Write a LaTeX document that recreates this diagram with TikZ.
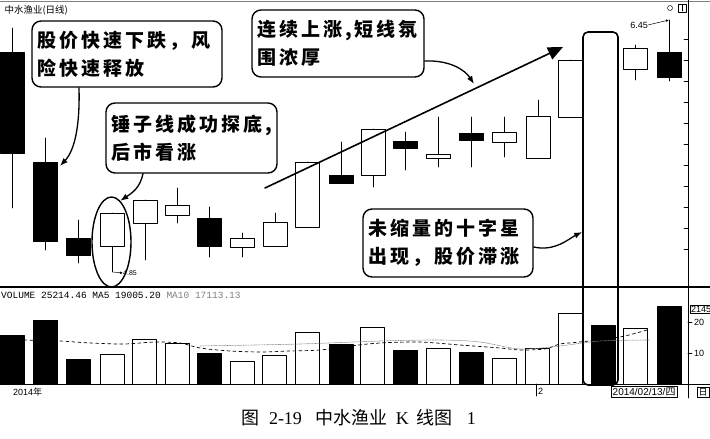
\documentclass[tikz,border=0pt]{standalone}
\usepackage{fontspec}
\setmainfont{Liberation Serif}
\setsansfont{Liberation Sans}
\setmonofont{Liberation Mono}
\newfontfamily\cjk{Noto Sans CJK SC}
\newfontfamily\cjkw{Noto Sans CJK SC}[LetterSpace=16]
\usetikzlibrary{arrows.meta,shapes.geometric}
\begin{document}
\begin{tikzpicture}[x=1pt, y=-1pt, line join=round, line cap=round, >=Latex,
	callout/.style={draw, fill=white, line width=1.4pt, rounded corners=9pt, align=left, inner xsep=5pt, inner ysep=0pt, font=\cjkw\bfseries\fontsize{19}{28}\selectfont},
	bull/.style={draw, fill=white, line width=.6pt},
	bear/.style={draw, fill=black, line width=.6pt},
	pointer/.style={line width=1.3pt, -{Latex[length=8pt,width=6pt]}},
	small/.style={inner sep=0pt, font=\sffamily\fontsize{9}{9}\selectfont}]
	\useasboundingbox (0,0) rectangle (710,439);
	\def\base{384} \def\hw{12} % volume baseline, half width of a bar
	% panels and axis
	\draw[gray, line width=1pt] (0,1)--(710,1);
	\draw[line width=1.2pt] (0,287)--(710,287);
	\draw[line width=1pt] (0,\base)--(710,\base);
	\draw[line width=.8pt] (688,0)--(688,398);
	\foreach \t in {0,...,10} \draw[line width=.6pt] (684,39+21*\t)--(688,39+21*\t);
	\node[anchor=west, font=\cjk\fontsize{9.5}{9.5}\selectfont] (title) at (1,10) {中水渔业(日线)};
	\draw[line width=.5pt] (670,8) circle (2.5);
	\draw[line width=.7pt] (678,4) rectangle (686,12) (682,5)--(682,11);
	% candles: x / wick top / body top / body bottom / wick bottom / style
	\foreach \x/\wt/\bt/\bb/\wb/\s in {12/28/52/153/208/bear, 45.5/138/162/241/250/bear, 78/220/238/255/263/bear, 112/213/213/246/272/bull, 145/200/200/223/260/bull, 177.5/188/205/215/223/bull, 209/207/218/246/257/bear, 242/233/238/247/257/bull, 275/213/222/246/246/bull, 307/162/162/227/227/bull, 341/142/175/183/183/bear, 373.5/129/129/175/187/bull, 405.5/132/141/148/170/bear, 438.5/117/154/158/167/bull, 471.5/117/133/140/167/bear, 504/117/132/142/157/bull, 538/100/116/158/158/bull, 570/60/60/117/117/bull, 635/45/48/69/80/bull, 669/20/52/77/81/bear}{
		\draw[line width=.6pt] (\x,\wt)--(\x,\wb);
		\draw[\s] (\x-\hw,\bt) rectangle (\x+\hw,\bb);
	}
	\coordinate (hi) at (669,20);
	\coordinate (lo) at (113,272);
	\node[small, anchor=east] (high) at (648,25) {6.45};
	\node[small, anchor=west, font=\sffamily\fontsize{7}{7}\selectfont] (low) at (123,273) {4.85};
	\draw[line width=.5pt, -{Latex[length=3pt,width=2.5pt]}] (high.east)--(hi);
	\draw[line width=.5pt, -{Latex[length=3pt,width=2.5pt]}] (lo)--(low.west);
	% volume
	\node[anchor=west, inner sep=0pt, font=\ttfamily\fontsize{9.5}{9.5}\selectfont] (vol) at (1,295) {VOLUME 25214.46 MA5 19005.20 \textcolor{gray}{MA10 17113.13}};
	\foreach \x/\v/\s in {12/335/bear, 45.5/320/bear, 78/359/bear, 112/354/bull, 144.5/339/bull, 177/343/bull, 209/353/bear, 242/361/bull, 274.5/355/bull, 307.5/332/bull, 341/344/bear, 372.5/327/bull, 405/350/bear, 438/348/bull, 471/352/bear, 504/358/bull, 537.5/348/bull, 570/313/bull, 603/325/bear, 635/328/bull, 669/306/bear}
		\draw[\s] (\x-\hw,\v) rectangle (\x+\hw,\base);
	\draw[dashed, line width=.7pt] plot[smooth] coordinates {(0,338) (24,340) (60,341) (90,343) (124,344) (155,342) (180,343) (200,348) (230,351) (262,352) (290,351) (320,350) (350,346) (380,343) (420,342) (460,345) (500,348) (520,350) (545,349) (560,344) (580,342) (620,337) (647,330)};
	\draw[gray, densely dotted, line width=.6pt] plot[smooth] coordinates {(200,346) (300,344) (380,341) (440,340) (480,342) (520,349) (560,346) (600,341) (650,340)};
	% volume axis and dates
	\draw[line width=.6pt] (688,322)--(692,322) (688,353)--(692,353);
	\node[small, draw, anchor=west, inner sep=1pt] (v1) at (690,309) {2145};
	\node[small, anchor=west] (v2) at (694,322) {20};
	\node[small, anchor=west] (v3) at (694,353) {10};
	\node[small, anchor=west] (d1) at (13,392) {2014{\cjk 年}};
	\draw[line width=.6pt] (536,384)--(536,396);
	\node[small, anchor=west] (d2) at (538,391) {2};
	\node[small, draw, anchor=west, inner sep=1.5pt, font=\sffamily\fontsize{10}{10}\selectfont] (d3) at (611,392) {2014/02/13/{\cjk 四}};
	\node[small, draw, anchor=west, inner sep=1.5pt, font=\cjk\fontsize{9}{9}\selectfont] (d4) at (697,392) {日};
	% marks
	\node[draw, ellipse, line width=1.4pt, minimum width=39pt, minimum height=90pt, inner sep=0pt] (hammer) at (111.5,242) {};
	\node[draw, line width=1.6pt, rounded corners=5pt, minimum width=35pt, minimum height=353pt, inner sep=0pt] (doji) at (600.5,208.5) {};
	\coordinate (trendS) at (265,188);
	\coordinate (trendE) at (563,47);
	\draw[line width=1.6pt, -{Triangle[length=15pt,width=13pt]}] (trendS)--(trendE);
	% callouts
	\node[callout, text width=180pt, minimum height=66pt] (fall) at (127,54) {股价快速下跌，风\\险快速释放};
	\node[callout, text width=161pt, minimum height=70pt] (bottom) at (191.5,138) {锤子线成功探底,\\后市看涨};
	\node[callout, text width=162pt, minimum height=67pt] (rise) at (338,43.5) {连续上涨,短线氛\\围浓厚};
	\node[callout, text width=160pt, minimum height=68pt] (stall) at (448,243) {未缩量的十字星\\出现，股价滞涨};
	\coordinate (fallTip) at (60,166);
	\coordinate (riseTip) at (474,84);
	\draw[pointer] ([xshift=-48pt]fall.south) .. controls (80,125) and (75,150) .. (fallTip);
	\draw[pointer] ([xshift=-48.5pt]bottom.south) .. controls (140,188) and (132,193) .. (hammer.78);
	\draw[pointer] ([yshift=-17.5pt]rise.east) .. controls (450,60) and (465,70) .. (riseTip);
	\draw[pointer] ([yshift=-4pt]stall.east) .. controls (555,252) and (570,238) .. ([yshift=-23.5pt]doji.west);
	% caption
	\node[font=\fontsize{18}{18}\selectfont] (cap) at (358.5,418) {{\cjk 图}\hspace{10pt}2-19\hspace{14pt}{\cjk 中水渔业}\hspace{8pt}K\hspace{8pt}{\cjk 线图}\hspace{14pt}1};
\end{tikzpicture}
\end{document}
